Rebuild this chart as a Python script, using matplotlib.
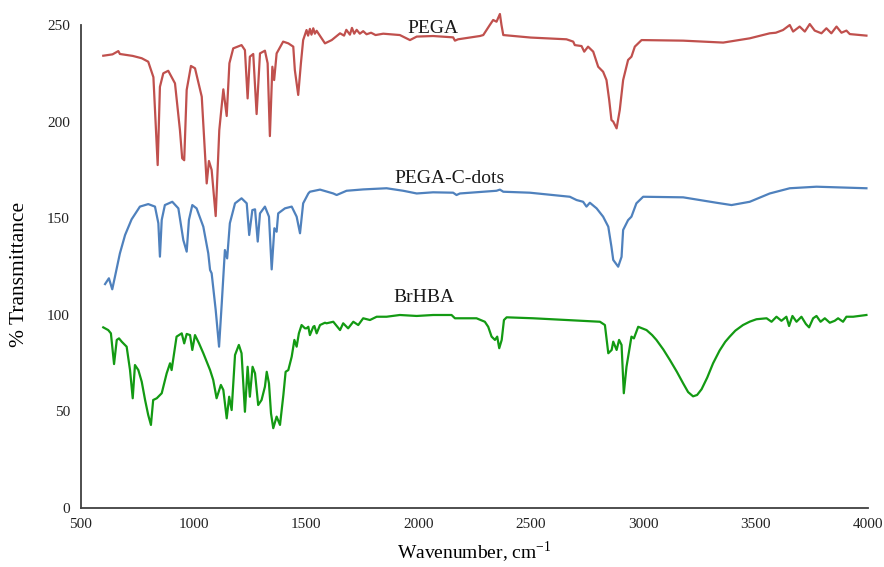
import matplotlib
matplotlib.use("Agg")
import matplotlib.pyplot as plt

plt.rcParams['font.family'] = ['Liberation Serif', 'DejaVu Serif']
plt.rcParams['mathtext.fontset'] = 'stix'

# ---- data ----
pega_wn = [599, 640, 666, 673, 730, 770, 799, 822, 841, 851, 866, 888, 918, 940, 950, 959, 970, 989, 1007,
           1037, 1059, 1069, 1081, 1099, 1115, 1133, 1148, 1160, 1177, 1214, 1229, 1241, 1251, 1266, 1281,
           1296, 1318, 1330, 1340, 1351, 1359, 1370, 1399, 1422, 1444, 1451, 1466, 1478, 1488, 1503, 1510,
           1518, 1525, 1533, 1540, 1548, 1585, 1615, 1652, 1670, 1680, 1696, 1705, 1715, 1726, 1740, 1755,
           1770, 1790, 1810, 1844, 1918, 1963, 1993, 2066, 2155, 2163, 2177, 2274, 2289, 2318, 2333, 2348,
           2363, 2370, 2378, 2500, 2659, 2689, 2696, 2726, 2738, 2755, 2778, 2800, 2822, 2837, 2849, 2859,
           2867, 2882, 2896, 2911, 2933, 2948, 2963, 2993, 3178, 3356, 3474, 3563, 3590, 3622, 3652, 3667,
           3696, 3719, 3741, 3763, 3793, 3815, 3837, 3860, 3882, 3904, 3919, 3993]
pega_t = [234.1, 234.8, 236.5, 235, 234, 232.8, 231, 223, 177.5, 218, 225, 226.3, 219.8, 195.6, 181, 180,
          216.4, 228.8, 227.6, 212.9, 168, 179.6, 175, 151.1, 195.6, 216.7, 202.9, 230.2, 237.9, 239.6, 237,
          212, 233.6, 235, 203.9, 235.3, 236.7, 230.2, 192.5, 228.4, 221.5, 235.3, 241.4, 240.5, 238.8,
          226.7, 213.8, 230.2, 242.2, 247.4, 244.5, 248, 245, 248.3, 245.5, 247, 240.5, 242.2, 245.7, 244.5,
          247.5, 245, 248.5, 245.5, 247.5, 245.5, 246.8, 245.2, 246, 244.8, 245.5, 244.8, 242.2, 244, 244.3,
          243.6, 241.9, 242.6, 244.3, 244.8, 250, 252.6, 251.7, 255.7, 250, 244.8, 243.5, 242.6, 241.4,
          239.6, 239.1, 236.2, 238.8, 236.2, 228.4, 225.8, 221.5, 211.2, 200.8, 200, 196.5, 206, 221.5,
          231.9, 233.6, 238.8, 242.2, 241.9, 240.9, 243.1, 245.7, 246, 247.4, 250, 246.6, 249.2, 246.6,
          250.5, 247.1, 245.7, 248.3, 245.7, 249.2, 246, 247.1, 245.3, 244.5]

cdots_wn = [607, 624, 639, 651, 673, 696, 725, 762, 799, 829, 844, 851, 859, 873, 906, 933, 955, 970, 980,
            995, 1014, 1044, 1066, 1074, 1081, 1099, 1114, 1126, 1140, 1150, 1162, 1185, 1214, 1237, 1248,
            1262, 1274, 1286, 1296, 1318, 1336, 1348, 1360, 1370, 1377, 1407, 1437, 1459, 1474, 1488, 1511,
            1518, 1563, 1622, 1637, 1681, 1755, 1859, 1933, 1993, 2066, 2155, 2170, 2185, 2348, 2363, 2378,
            2496, 2674, 2704, 2733, 2748, 2763, 2793, 2822, 2845, 2859, 2867, 2889, 2904, 2911, 2933, 2948,
            2970, 3000, 3178, 3326, 3393, 3474, 3563, 3652, 3771, 3993]
cdots_t = [115.9, 118.9, 113.2, 119.7, 131.8, 141.3, 149.4, 156, 157.3, 156, 147.4, 130.1, 149.1, 156.8,
           158.5, 155.1, 138.7, 132.7, 149.1, 156.8, 155.1, 145.6, 131.8, 123.2, 121.5, 102.5, 83.5, 106,
           133.5, 129.2, 147.4, 157.7, 160.3, 157.7, 141.3, 154.2, 154.6, 137.9, 152.5, 156, 150.8, 123.5,
           144.8, 143, 152.5, 155.1, 156, 150.8, 142.2, 157.7, 162.8, 163.7, 164.8, 162.8, 162, 164.2, 164.9,
           165.5, 164.2, 162.8, 163.4, 163.2, 162, 162.8, 164.2, 164.8, 163.7, 163.2, 161.1, 159.4, 158.5,
           156, 158, 155.1, 150.8, 145.6, 135.2, 128.4, 124.9, 130, 143.9, 149, 150.8, 157.7, 161.1, 160.8,
           158, 156.8, 158.5, 162.8, 165.5, 166.3, 165.5]

brhba_wn = [599, 621, 633, 647, 659, 669, 681, 703, 718, 730, 740, 755, 770, 785, 799, 811, 821, 837, 859,
            881, 896, 903, 925, 948, 959, 970, 985, 995, 1007, 1025, 1044, 1059, 1074, 1088, 1103, 1122, 1133,
            1148, 1159, 1170, 1185, 1202, 1214, 1229, 1241, 1251, 1263, 1274, 1288, 1303, 1318, 1326, 1336,
            1345, 1355, 1370, 1385, 1400, 1410, 1422, 1437, 1449, 1459, 1469, 1481, 1496, 1503, 1511, 1518,
            1533, 1538, 1548, 1563, 1585, 1592, 1622, 1652, 1666, 1688, 1711, 1733, 1755, 1785, 1815, 1859,
            1918, 1993, 2066, 2148, 2163, 2259, 2296, 2311, 2326, 2341, 2351, 2360, 2371, 2381, 2393, 2511,
            2659, 2748, 2808, 2830, 2845, 2860, 2867, 2882, 2893, 2904, 2914, 2926, 2938, 2948, 2959, 2978,
            3015, 3040, 3059, 3090, 3119, 3150, 3178, 3200, 3222, 3240, 3260, 3285, 3311, 3340, 3365, 3385,
            3410, 3444, 3475, 3504, 3549, 3571, 3593, 3615, 3637, 3649, 3664, 3682, 3704, 3724, 3738, 3756,
            3771, 3789, 3808, 3830, 3852, 3867, 3889, 3904, 3934, 3993]
brhba_t = [93.5, 92.1, 90.4, 74.5, 87, 87.8, 86.1, 83.5, 71.4, 56.8, 74, 71.4, 65.4, 55.9, 48.1, 43, 55.9,
           56.8, 59.4, 69.7, 74.9, 71.4, 88.7, 90.4, 85.2, 90.1, 89.5, 81.8, 89.5, 85.2, 80.1, 75.7, 71.4,
           66.3, 56.8, 63.7, 61.1, 46.4, 57.6, 50.7, 79.2, 84.4, 80.1, 49.8, 73.1, 57.6, 73.1, 69.7, 53.3,
           55.9, 62.8, 70.5, 64.5, 49, 41.3, 47.3, 43, 58.5, 70.5, 71.4, 78.3, 87, 83.5, 90.4, 94.7, 93, 93,
           93.8, 89.5, 93.8, 94.2, 90.4, 94.7, 95.9, 95.6, 96.4, 92.1, 95.6, 93, 96.4, 94.7, 98.2, 97.3, 99,
           99, 99.9, 99.4, 99.9, 99.9, 98.2, 98.2, 96.4, 93.8, 88.7, 87, 88.7, 82.7, 87, 97.3, 98.7, 98.2,
           97.3, 96.8, 96.4, 94.7, 80.1, 81.8, 86.1, 81.8, 87, 84.4, 59.4, 73.1, 81.8, 88.7, 87.8, 93.8,
           92.1, 89.5, 87, 82, 76.6, 70.5, 64.5, 60, 57.8, 58.5, 61.5, 67.5, 74.9, 81.5, 86, 88.7, 91.8,
           94.7, 96.5, 97.7, 98.2, 96.4, 99, 96.9, 99, 94.2, 99.4, 96.4, 99, 95.2, 93.5, 98.2, 99.4, 96.4,
           98.2, 95.9, 96.9, 98.2, 96.4, 99, 99, 99.9]

series_names = ["PEGA", "PEGA-C-dots", "BrHBA"]
series_colors = ["#C0504D", "#4F81BD", "#139A13"]
label_pos = [(2065, 248.0), (2141, 170.3), (2027, 109.2)]

x_ticks = [500, 1000, 1500, 2000, 2500, 3000, 3500, 4000]
y_ticks = [0, 50, 100, 150, 200, 250]

fig = plt.figure(figsize=(8.84, 5.67), dpi=100)
ax = fig.add_axes([81 / 884, 1 - 508 / 567, (868 - 81) / 884, (508 - 25) / 567])

for wn, t, c in zip([pega_wn, cdots_wn, brhba_wn], [pega_t, cdots_t, brhba_t], series_colors):
    ax.plot(wn, t, color=c, lw=1.6, solid_joinstyle='round', clip_on=False)

for name, (lx, ly) in zip(series_names, label_pos):
    ax.text(lx, ly, name, ha='center', va='center', fontsize=14, color='#1a1a1a')

ax.set_xlim(500, 4000)
ax.set_ylim(0, 250)
ax.set_xticks(x_ticks)
ax.set_yticks(y_ticks)
ax.tick_params(length=0, labelsize=11, colors='#222222')
ax.tick_params(axis='y', pad=8)
ax.tick_params(axis='x', pad=7)
for s in ['top', 'right']:
    ax.spines[s].set_visible(False)
for s in ['left', 'bottom']:
    ax.spines[s].set_color('#404040')
    ax.spines[s].set_linewidth(1.3)

ax.set_xlabel("Wavenumber, cm$^{\\mathregular{-1}}$", fontsize=14, va='center')
ax.xaxis.set_label_coords((474 - 81) / 787, (508 - 552) / 483)
ax.set_ylabel("% Transmittance", fontsize=15.5, va='center')
ax.yaxis.set_label_coords((20 - 81) / 787, (508 - 274) / 483)

fig.savefig("out.png", dpi=100)
